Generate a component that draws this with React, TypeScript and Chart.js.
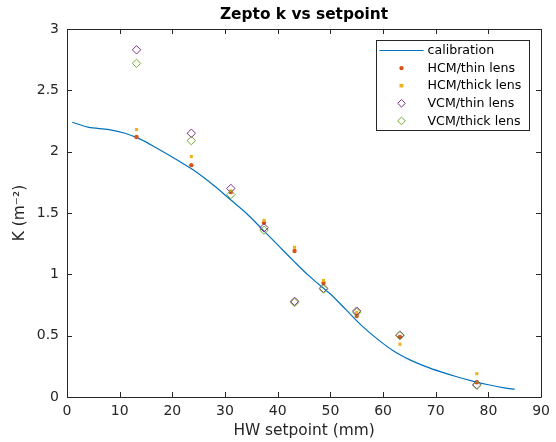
import React, { useEffect, useRef } from "react";
import { Chart, registerables } from "chart.js";

Chart.register(...registerables);

// Calibration curve
const calX = [1, 4, 8, 11, 14, 17, 21, 24, 28, 31, 34, 37, 40, 43, 46, 48.7, 50, 53, 56, 59, 62, 65, 68, 71, 74, 77, 80, 83, 85];
const calY = [2.24, 2.2, 2.18, 2.15, 2.1, 2.03, 1.93, 1.85, 1.72, 1.61, 1.5, 1.37, 1.24, 1.11, 0.985, 0.886, 0.84, 0.71, 0.58, 0.47, 0.375, 0.305, 0.25, 0.205, 0.165, 0.13, 0.1, 0.075, 0.063];

// Measurements
const setpoints = [13.2, 23.6, 31.1, 37.4, 43.2, 48.7, 55.0, 63.2, 77.8];
const hcmThin = [2.12, 1.89, 1.67, 1.42, 1.19, 0.93, 0.66, 0.49, 0.12];
const hcmThick = [2.18, 1.96, 1.68, 1.44, 1.22, 0.95, 0.69, 0.43, 0.19];
const vcmThin = [2.83, 2.15, 1.7, 1.38, 0.78, 0.886, 0.7, 0.505, 0.1];
const vcmThick = [2.72, 2.09, 1.65, 1.36, 0.77, 0.88, 0.69, 0.5, 0.095];

const xTicks = [0, 10, 20, 30, 40, 50, 60, 70, 80, 90];
const yTicks = [0, 0.5, 1, 1.5, 2, 2.5, 3];

const seriesNames = ["calibration", "HCM/thin lens", "HCM/thick lens", "VCM/thin lens", "VCM/thick lens"];
const colors = ["#0072BD", "#D95319", "#EDB120", "#7E2F8E", "#77AC30"];

const FONT = "'DejaVu Sans', sans-serif";
const AX = "#262626";

const pts = (xs: number[], ys: number[]) => xs.map((x, i) => ({ x, y: ys[i] }));

const boxPlugin = {
  id: "matlabBox",
  afterDatasetsDraw(chart: any) {
    const { ctx, chartArea: a, scales } = chart;
    ctx.save();
    ctx.strokeStyle = AX;
    ctx.lineWidth = 1;
    ctx.beginPath();
    ctx.rect(Math.round(a.left) + 0.5, Math.round(a.top) + 0.5, Math.round(a.right - a.left), Math.round(a.bottom - a.top));
    ctx.stroke();
    const tl = 5;
    ctx.beginPath();
    xTicks.forEach((v) => {
      const px = Math.round(scales.x.getPixelForValue(v)) + 0.5;
      ctx.moveTo(px, a.bottom);
      ctx.lineTo(px, a.bottom - tl);
      ctx.moveTo(px, a.top);
      ctx.lineTo(px, a.top + tl);
    });
    yTicks.forEach((v) => {
      const py = Math.round(scales.y.getPixelForValue(v)) + 0.5;
      ctx.moveTo(a.left, py);
      ctx.lineTo(a.left + tl, py);
      ctx.moveTo(a.right, py);
      ctx.lineTo(a.right - tl, py);
    });
    ctx.stroke();

    // title
    ctx.fillStyle = "#000";
    ctx.font = `bold 15.4px ${FONT}`;
    ctx.textAlign = "center";
    ctx.textBaseline = "middle";
    ctx.fillText("Zepto k vs setpoint", (a.left + a.right) / 2, 15);

    // legend
    const w = 153, h = 90;
    const lx = Math.round(a.right - 12 - w) + 0.5;
    const ly = Math.round(a.top + 11) + 0.5;
    ctx.fillStyle = "#fff";
    ctx.fillRect(lx, ly, w, h);
    ctx.strokeStyle = AX;
    ctx.strokeRect(lx, ly, w, h);
    ctx.font = `12.6px ${FONT}`;
    ctx.textAlign = "left";
    seriesNames.forEach((name, i) => {
      const cy = ly + 10 + i * 17.6;
      const mx = lx + 25;
      ctx.strokeStyle = colors[i];
      ctx.fillStyle = colors[i];
      if (i === 0) {
        ctx.lineWidth = 1.2;
        ctx.beginPath();
        ctx.moveTo(lx + 3, cy);
        ctx.lineTo(lx + 47, cy);
        ctx.stroke();
      } else if (i === 1) {
        ctx.beginPath();
        ctx.arc(mx, cy, 2.2, 0, Math.PI * 2);
        ctx.fill();
      } else if (i === 2) {
        ctx.fillRect(mx - 2, cy - 1.8, 4, 3.6);
      } else {
        ctx.lineWidth = 1;
        ctx.beginPath();
        ctx.moveTo(mx, cy - 3.8);
        ctx.lineTo(mx + 3.8, cy);
        ctx.lineTo(mx, cy + 3.8);
        ctx.lineTo(mx - 3.8, cy);
        ctx.closePath();
        ctx.stroke();
      }
      ctx.fillStyle = "#000";
      ctx.fillText(name, lx + 51, cy + 0.5);
    });
    ctx.restore();
  },
};

export default function App() {
  const ref = useRef<HTMLCanvasElement>(null);
  useEffect(() => {
    document.body.style.margin = "0";
    if (!ref.current) return;
    const chart = new Chart(ref.current, {
      type: "scatter",
      data: {
        datasets: [
          {
            label: seriesNames[0],
            data: pts(calX, calY),
            showLine: true,
            borderColor: colors[0],
            borderWidth: 1.2,
            pointRadius: 0,
            cubicInterpolationMode: "monotone",
            order: 5,
          },
          {
            label: seriesNames[1],
            data: pts(setpoints, hcmThin),
            pointStyle: "circle",
            pointRadius: 2.2,
            backgroundColor: colors[1],
            borderColor: colors[1],
            borderWidth: 0,
            order: 4,
          },
          {
            label: seriesNames[2],
            data: pts(setpoints, hcmThick),
            pointStyle: "rect",
            pointRadius: 2.2,
            backgroundColor: colors[2],
            borderColor: colors[2],
            borderWidth: 0,
            order: 3,
          },
          {
            label: seriesNames[3],
            data: pts(setpoints, vcmThin),
            pointStyle: "rectRot",
            pointRadius: 4.2,
            backgroundColor: "rgba(0,0,0,0)",
            borderColor: colors[3],
            borderWidth: 1,
            order: 2,
          },
          {
            label: seriesNames[4],
            data: pts(setpoints, vcmThick),
            pointStyle: "rectRot",
            pointRadius: 4.2,
            backgroundColor: "rgba(0,0,0,0)",
            borderColor: colors[4],
            borderWidth: 1,
            order: 1,
          },
        ],
      },
      options: {
        responsive: false,
        animation: false,
        layout: { padding: { top: 29, right: 0, left: 0, bottom: 0 } },
        plugins: { legend: { display: false }, tooltip: { enabled: false }, title: { display: false } },
        scales: {
          x: {
            type: "linear",
            min: 0,
            max: 90,
            afterBuildTicks: (s: any) => {
              s.ticks = xTicks.map((v) => ({ value: v }));
            },
            afterFit: (s: any) => {
              s.height = 45;
            },
            grid: { display: false, drawTicks: false },
            border: { display: false },
            ticks: { padding: 6, color: AX, font: { family: FONT, size: 14 }, maxRotation: 0, autoSkip: false, callback: (v: any) => String(v) },
            title: { display: true, text: "HW setpoint (mm)", color: AX, font: { family: FONT, size: 15.4 }, padding: { top: 0, bottom: 2 } },
          },
          y: {
            type: "linear",
            min: 0,
            max: 3,
            afterBuildTicks: (s: any) => {
              s.ticks = yTicks.map((v) => ({ value: v }));
            },
            afterFit: (s: any) => {
              s.width = 67;
            },
            grid: { display: false, drawTicks: false },
            border: { display: false },
            ticks: { padding: 8, color: AX, font: { family: FONT, size: 14 }, autoSkip: false, callback: (v: any) => String(v) },
            title: { display: true, text: "K (m⁻²)", color: AX, font: { family: FONT, size: 15.4 }, padding: { top: 11, bottom: 0 } },
          },
        },
      },
      plugins: [boxPlugin],
    });
    return () => chart.destroy();
  }, []);
  return (
    <div style={{ width: 556, height: 442 }}>
      <canvas ref={ref} width={556} height={442} />
    </div>
  );
}
